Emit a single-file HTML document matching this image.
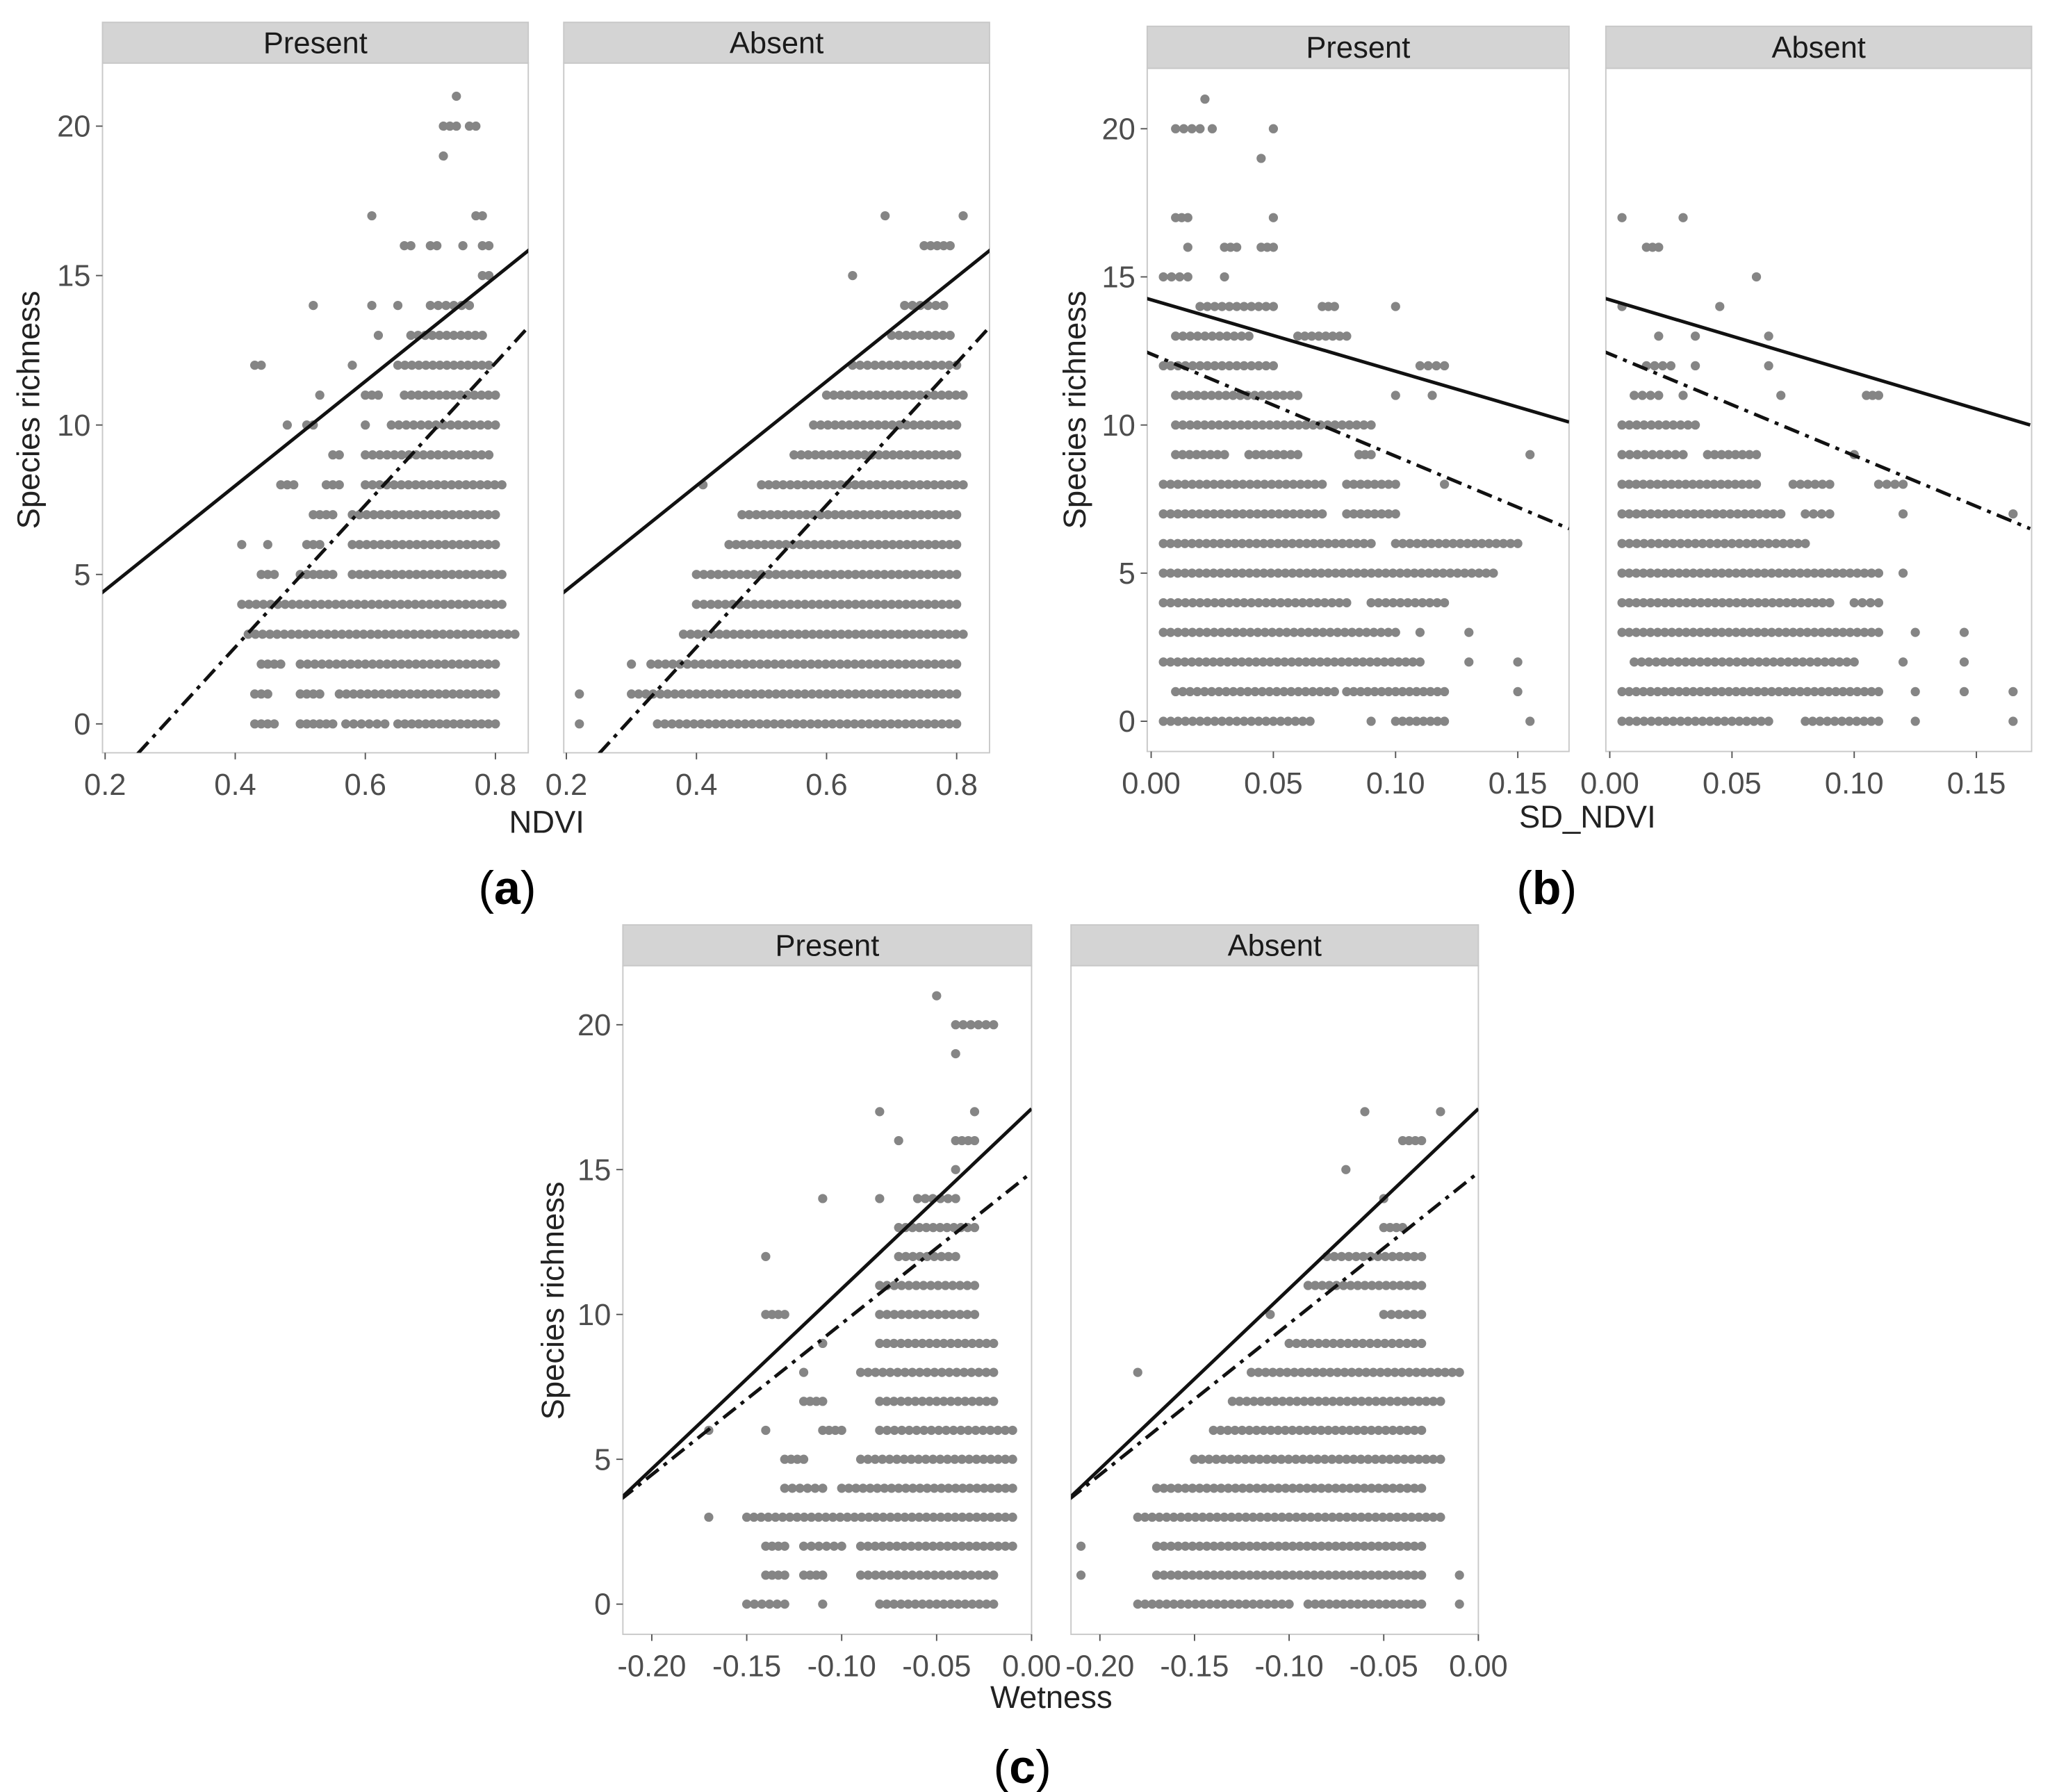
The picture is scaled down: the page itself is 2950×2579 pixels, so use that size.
<!DOCTYPE html>
<html><head><meta charset="utf-8"><style>
html,body{margin:0;padding:0;background:#fff;}
svg{display:block;}
text{font-family:"Liberation Sans",sans-serif;}
</style></head><body>
<svg id="fig" width="2950" height="2579" viewBox="0 0 1560 1364" preserveAspectRatio="none" xmlns="http://www.w3.org/2000/svg">
<rect width="1560" height="1364" fill="#fff"/>
<g id="root"></g>
</svg>
<script>
const aPresentRows = [
[0,[0.43,0.46],[0.5,0.55],[0.57,0.63],[0.65,0.8]],
[1,[0.43,0.45],[0.5,0.53],[0.56,0.8]],
[2,[0.44,0.47],[0.5,0.8]],
[3,[0.42,0.83]],
[4,[0.41,0.81]],
[5,[0.44,0.46],[0.5,0.55],[0.58,0.81]],
[6,[0.41,0.41],[0.45,0.45],[0.51,0.53],[0.58,0.8]],
[7,[0.52,0.55],[0.58,0.8]],
[8,[0.47,0.49],[0.54,0.56],[0.6,0.81]],
[9,[0.55,0.56],[0.6,0.79]],
[10,[0.48,0.48],[0.51,0.52],[0.6,0.6],[0.64,0.8]],
[11,[0.53,0.53],[0.6,0.62],[0.66,0.8]],
[12,[0.43,0.44],[0.58,0.58],[0.65,0.79]],
[13,[0.62,0.62],[0.67,0.78]],
[14,[0.52,0.52],[0.61,0.61],[0.65,0.65],[0.7,0.76]],
[15,[0.78,0.79]],
[16,[0.66,0.67],[0.7,0.71],[0.75,0.75],[0.78,0.79]],
[17,[0.61,0.61],[0.77,0.78]],
[19,[0.72,0.72]],
[20,[0.72,0.74],[0.76,0.77]],
[21,[0.74,0.74]]];
const aAbsentRows = [
[0,[0.22,0.22],[0.34,0.8]],
[1,[0.22,0.22],[0.3,0.8]],
[2,[0.3,0.3],[0.33,0.8]],
[3,[0.38,0.81]],
[4,[0.4,0.8]],
[5,[0.4,0.8]],
[6,[0.45,0.8]],
[7,[0.47,0.8]],
[8,[0.41,0.41],[0.5,0.81]],
[9,[0.55,0.8]],
[10,[0.58,0.8]],
[11,[0.6,0.81]],
[12,[0.64,0.8]],
[13,[0.7,0.79]],
[14,[0.72,0.78]],
[15,[0.64,0.64]],
[16,[0.75,0.79]],
[17,[0.69,0.69],[0.81,0.81]]];
const bPresentRows = [
[0,[0.005,0.065],[0.09,0.09],[0.1,0.12],[0.155,0.155]],
[1,[0.01,0.075],[0.08,0.12],[0.15,0.15]],
[2,[0.005,0.11],[0.13,0.13],[0.15,0.15]],
[3,[0.005,0.1],[0.11,0.11],[0.13,0.13]],
[4,[0.005,0.08],[0.09,0.12]],
[5,[0.005,0.14]],
[6,[0.005,0.09],[0.1,0.15]],
[7,[0.005,0.07],[0.08,0.1]],
[8,[0.005,0.07],[0.08,0.1],[0.12,0.12]],
[9,[0.01,0.03],[0.04,0.06],[0.085,0.09],[0.155,0.155]],
[10,[0.01,0.09]],
[11,[0.01,0.06],[0.1,0.1],[0.115,0.115]],
[12,[0.005,0.05],[0.11,0.12]],
[13,[0.01,0.04],[0.06,0.08]],
[14,[0.02,0.05],[0.07,0.075],[0.1,0.1]],
[15,[0.005,0.015],[0.03,0.03]],
[16,[0.015,0.015],[0.03,0.035],[0.045,0.05]],
[17,[0.01,0.015],[0.05,0.05]],
[19,[0.045,0.045]],
[20,[0.01,0.02],[0.025,0.025],[0.05,0.05]],
[21,[0.022,0.022]]];
const bAbsentRows = [
[0,[0.005,0.065],[0.08,0.11],[0.125,0.125],[0.165,0.165]],
[1,[0.005,0.11],[0.125,0.125],[0.145,0.145],[0.165,0.165]],
[2,[0.01,0.1],[0.12,0.12],[0.145,0.145]],
[3,[0.005,0.11],[0.125,0.125],[0.145,0.145]],
[4,[0.005,0.09],[0.1,0.11]],
[5,[0.005,0.11],[0.12,0.12]],
[6,[0.005,0.08]],
[7,[0.005,0.07],[0.08,0.09],[0.12,0.12],[0.165,0.165]],
[8,[0.005,0.06],[0.075,0.09],[0.11,0.12]],
[9,[0.005,0.03],[0.04,0.06],[0.1,0.1]],
[10,[0.005,0.035]],
[11,[0.01,0.02],[0.03,0.03],[0.07,0.07],[0.105,0.11]],
[12,[0.015,0.025],[0.035,0.035],[0.065,0.065]],
[13,[0.02,0.02],[0.035,0.035],[0.065,0.065]],
[14,[0.005,0.005],[0.045,0.045]],
[15,[0.06,0.06]],
[16,[0.015,0.02]],
[17,[0.005,0.005],[0.03,0.03]]];
const cPresentRows = [
[0,[-0.15,-0.13],[-0.11,-0.11],[-0.08,-0.02]],
[1,[-0.14,-0.13],[-0.12,-0.11],[-0.09,-0.02]],
[2,[-0.14,-0.13],[-0.12,-0.1],[-0.09,-0.01]],
[3,[-0.17,-0.17],[-0.15,-0.01]],
[4,[-0.13,-0.11],[-0.1,-0.01]],
[5,[-0.13,-0.12],[-0.09,-0.01]],
[6,[-0.17,-0.17],[-0.14,-0.14],[-0.11,-0.1],[-0.08,-0.01]],
[7,[-0.12,-0.11],[-0.08,-0.02]],
[8,[-0.12,-0.12],[-0.09,-0.02]],
[9,[-0.11,-0.11],[-0.08,-0.02]],
[10,[-0.14,-0.13],[-0.08,-0.03]],
[11,[-0.08,-0.03]],
[12,[-0.14,-0.14],[-0.07,-0.04]],
[13,[-0.07,-0.03]],
[14,[-0.11,-0.11],[-0.08,-0.08],[-0.06,-0.04]],
[15,[-0.04,-0.04]],
[16,[-0.07,-0.07],[-0.04,-0.03]],
[17,[-0.08,-0.08],[-0.03,-0.03]],
[19,[-0.04,-0.04]],
[20,[-0.04,-0.02]],
[21,[-0.05,-0.05]]];
const cAbsentRows = [
[0,[-0.18,-0.1],[-0.09,-0.03],[-0.01,-0.01]],
[1,[-0.21,-0.21],[-0.17,-0.03],[-0.01,-0.01]],
[2,[-0.21,-0.21],[-0.17,-0.03]],
[3,[-0.18,-0.02]],
[4,[-0.17,-0.03]],
[5,[-0.15,-0.02]],
[6,[-0.14,-0.03]],
[7,[-0.13,-0.02]],
[8,[-0.18,-0.18],[-0.12,-0.01]],
[9,[-0.1,-0.03]],
[10,[-0.11,-0.11],[-0.05,-0.03]],
[11,[-0.09,-0.03]],
[12,[-0.08,-0.03]],
[13,[-0.05,-0.04]],
[14,[-0.05,-0.05]],
[15,[-0.07,-0.07]],
[16,[-0.04,-0.03]],
[17,[-0.06,-0.06],[-0.02,-0.02]]];
const aSolid = [[0.19,4.3],[0.86,16]];
const aDashDot = [[0.25,-1],[0.86,13.5]];
const bPresentSolid = [[-0.003,14.3],[0.171,10.1]];
const bPresentDashDot = [[-0.003,12.5],[0.171,6.5]];
const bAbsentSolid = [[-0.003,14.3],[0.172,10.0]];
const bAbsentDashDot = [[-0.003,12.5],[0.172,6.5]];
const cSolid = [[-0.23,2.8],[0,17.1]];
const cDashDot = [[-0.23,2.9],[0,14.9]];
const yTicks = [0,5,10,15,20];
const aXTicks = [0.2,0.4,0.6,0.8];
const aXLabels = ["0.2","0.4","0.6","0.8"];
const bXTicks = [0,0.05,0.1,0.15];
const bXLabels = ["0.00","0.05","0.10","0.15"];
const cXTicks = [-0.2,-0.15,-0.1,-0.05,0];
const cXLabels = ["-0.20","-0.15","-0.10","-0.05","0.00"];

const NS="http://www.w3.org/2000/svg";
const root=document.getElementById('root');
function el(tag,attrs,parent,txt){const e=document.createElementNS(NS,tag);for(const k in attrs)e.setAttribute(k,attrs[k]);if(txt!==undefined)e.textContent=txt;(parent||root).appendChild(e);return e;}

function panel(cfg){
  const g=el('g',{});
  
  
  const sx=v=>cfg.xa[1]+(v-cfg.xa[0])*(cfg.xb[1]-cfg.xa[1])/(cfg.xb[0]-cfg.xa[0]);
  const sy=v=>cfg.ya[1]+(v-cfg.ya[0])*(cfg.yb[1]-cfg.ya[1])/(cfg.yb[0]-cfg.ya[0]);
  const [L,R,T,B]=cfg.rect;
  const bg=el('rect',{x:L,y:T,width:R-L,height:B-T,fill:'#fff',stroke:'#c8c8c8','stroke-width':1},g);
  
  
  const st=el('rect',{x:L,y:cfg.strip,width:R-L,height:T-cfg.strip,fill:'#d4d4d4',stroke:'#c8c8c8','stroke-width':1},g);
  
  
  const stt=el('text',{x:(L+R)/2,y:(cfg.strip+T)/2+8,'text-anchor':'middle','font-size':23,fill:'#1a1a1a'},g,cfg.label);
  
  
  const dg=el('g',{fill:'#858585'},g);
  
  
  cfg.rows.forEach(r=>{
    const yv=r[0];
    for(let i=1;i<r.length;i++){
      const p0=sx(r[i][0]),p1=sx(r[i][1]);
      const n=Math.max(1,Math.round((p1-p0)/5.5)+1);
      for(let k=0;k<n;k++){
        const px=n===1?p0:p0+(p1-p0)*k/(n-1);
        const c=el('circle',{cx:px,cy:sy(yv),r:3.5},dg);
        
        
      }
    }
  });
  const clipId='clip-'+cfg.name;
  const cp=el('clipPath',{id:clipId},g);
  el('rect',{x:L,y:T,width:R-L,height:B-T},cp);
  const lg=el('g',{'clip-path':'url(#'+clipId+')'},g);
  const ls=el('line',{x1:sx(cfg.solid[0][0]),y1:sy(cfg.solid[0][1]),x2:sx(cfg.solid[1][0]),y2:sy(cfg.solid[1][1]),stroke:'#111','stroke-width':2.6},lg);
  
  
  const ld=el('line',{x1:sx(cfg.dash[0][0]),y1:sy(cfg.dash[0][1]),x2:sx(cfg.dash[1][0]),y2:sy(cfg.dash[1][1]),stroke:'#111','stroke-width':2.6,'stroke-dasharray':'12,5,3,5'},lg);
  
  
  cfg.xt.forEach((v,i)=>{
    const x=sx(v);
    el('line',{x1:x,y1:B,x2:x,y2:B+5,stroke:'#555','stroke-width':1},g);
    const t=el('text',{x:x,y:B+32,'text-anchor':'middle','font-size':23,fill:'#4d4d4d'},g,cfg.xl[i]);
    
    
  });
  if(cfg.yaxis){
    yTicks.forEach(v=>{
      const y=sy(v);
      el('line',{x1:L-5,y1:y,x2:L,y2:y,stroke:'#555','stroke-width':1},g);
      const t=el('text',{x:L-9,y:y+8,'text-anchor':'end','font-size':23,fill:'#4d4d4d'},g,String(v));
      
      
    });
  }
}

panel({name:'panel-a-present',label:'Present',rect:[78,402,48,573],strip:17,xa:[0.2,80],xb:[0.8,377],ya:[0,551],yb:[20,96],rows:aPresentRows,solid:aSolid,dash:aDashDot,xt:aXTicks,xl:aXLabels,yaxis:true});
panel({name:'panel-a-absent',label:'Absent',rect:[429,753,48,573],strip:17,xa:[0.2,431],xb:[0.8,728],ya:[0,551],yb:[20,96],rows:aAbsentRows,solid:aSolid,dash:aDashDot,xt:aXTicks,xl:aXLabels,yaxis:false});
panel({name:'panel-b-present',label:'Present',rect:[873,1194,52,572],strip:20,xa:[0,876],xb:[0.15,1155],ya:[0,549],yb:[20,98],rows:bPresentRows,solid:bPresentSolid,dash:bPresentDashDot,xt:bXTicks,xl:bXLabels,yaxis:true});
panel({name:'panel-b-absent',label:'Absent',rect:[1222,1546,52,572],strip:20,xa:[0,1225],xb:[0.15,1504],ya:[0,549],yb:[20,98],rows:bAbsentRows,solid:bAbsentSolid,dash:bAbsentDashDot,xt:bXTicks,xl:bXLabels,yaxis:false});
panel({name:'panel-c-present',label:'Present',rect:[474,785,735,1244],strip:704,xa:[-0.2,496],xb:[0,785],ya:[0,1221],yb:[20,780],rows:cPresentRows,solid:cSolid,dash:cDashDot,xt:cXTicks,xl:cXLabels,yaxis:true});
panel({name:'panel-c-absent',label:'Absent',rect:[815,1125,735,1244],strip:704,xa:[-0.2,837],xb:[0,1125],ya:[0,1221],yb:[20,780],rows:cAbsentRows,solid:cSolid,dash:cDashDot,xt:cXTicks,xl:cXLabels,yaxis:false});

function label(x,y,txt,name,opts){
  const t=el('text',Object.assign({x:x,y:y,'text-anchor':'middle','font-size':24,fill:'#222'},opts||{}),root,txt);
  
  
  return t;
}
label(416,634,'NDVI','x-axis-title-a');
label(1208,630,'SD_NDVI','x-axis-title-b');
label(800,1300,'Wetness','x-axis-title-c');
label(30,312,'Species richness','y-axis-title-a',{transform:'rotate(-90 30 312)'});
label(826,312,'Species richness','y-axis-title-b',{transform:'rotate(-90 826 312)'});
label(429,990,'Species richness','y-axis-title-c',{transform:'rotate(-90 429 990)'});
const sf={'font-family':'"Liberation Serif",serif','font-size':36,fill:'#000'};
const la=label(386,688,'','panel-label-a',sf); la.innerHTML='(<tspan font-weight="bold">a</tspan>)';
const lb=label(1177,688,'','panel-label-b',sf); lb.innerHTML='(<tspan font-weight="bold">b</tspan>)';
const lc=label(778,1357,'','panel-label-c',sf); lc.innerHTML='(<tspan font-weight="bold">c</tspan>)';
</script>
</body></html>
